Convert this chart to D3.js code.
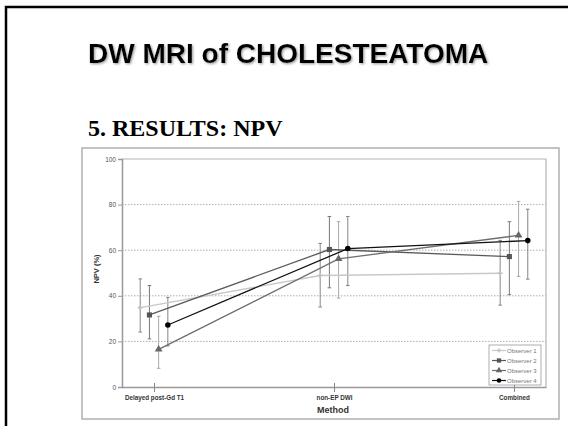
<!DOCTYPE html>
<html lang="en">
<head>
    <meta charset="UTF-8">
    <title>DW MRI of Cholesteatoma - NPV</title>
    <script src="https://d3js.org/d3.v7.min.js"></script>
    <style>
        body { margin: 0; background: #fff; }
        svg { display: block; }
        .tick-label { font-family: "Liberation Sans", Arial, sans-serif; font-size: 6.5px; fill: #555; }
        .cat-label { font-family: "Liberation Sans", Arial, sans-serif; font-size: 6.3px; font-weight: bold; fill: #333; }
        .legend text { font-family: "Liberation Sans", Arial, sans-serif; font-size: 6px; fill: #777; }
    </style>
</head>
<body>
<div id="chart"></div>
<script>
    // Categories and series
    const categories = ["Delayed post-Gd T1", "non-EP DWI", "Combined"];
    const observers = ["Observer 1", "Observer 2", "Observer 3", "Observer 4"];
    const yTicks = [0, 20, 40, 60, 80, 100];

    // NPV (%) per observer, with lower / upper confidence limits
    const npvObs1 = [34.8, 48.9, 49.9];
    const npvObs2 = [31.6, 60.3, 57.2];
    const npvObs3 = [16.5, 56.2, 66.5];
    const npvObs4 = [27.2, 60.7, 64.2];

    const lowObs1 = [24.1, 35.1, 35.9];
    const lowObs2 = [21.1, 43.5, 40.5];
    const lowObs3 = [8.2, 39.0, 48.5];
    const lowObs4 = [18.0, 44.5, 47.3];

    const highObs1 = [47.4, 63.0, 64.3];
    const highObs2 = [44.5, 74.8, 72.5];
    const highObs3 = [31.0, 72.5, 81.4];
    const highObs4 = [39.3, 74.8, 78.0];

    const W = 568, H = 426;

    const svg = d3.select("#chart")
        .append("svg")
        .attr("width", W)
        .attr("height", H);

    // drop shadow for the slide title
    const defs = svg.append("defs");
    defs.append("filter").attr("id", "shadow")
        .attr("x", "-5%").attr("y", "-20%").attr("width", "110%").attr("height", "150%")
        .append("feDropShadow")
        .attr("dx", 1.2).attr("dy", 1.2).attr("stdDeviation", 0.8)
        .attr("flood-color", "#888").attr("flood-opacity", 0.8);

    // slide frame
    svg.append("rect")
        .attr("x", 6).attr("y", 7)
        .attr("width", 600).attr("height", 450)
        .attr("fill", "#fff")
        .attr("stroke", "#000")
        .attr("stroke-width", 2.5);

    svg.append("text")
        .attr("x", 88).attr("y", 63)
        .attr("font-family", "'Liberation Sans', Arial, sans-serif")
        .attr("font-weight", "bold")
        .attr("font-size", 28)
        .attr("filter", "url(#shadow)")
        .text("DW MRI of CHOLESTEATOMA");

    svg.append("text")
        .attr("x", 88).attr("y", 136)
        .attr("font-family", "'Liberation Serif', 'Times New Roman', serif")
        .attr("font-weight", "bold")
        .attr("font-size", 24)
        .text("5. RESULTS: NPV");

    // chart container
    svg.append("rect")
        .attr("x", 82).attr("y", 148)
        .attr("width", 477).attr("height", 271)
        .attr("fill", "#fff")
        .attr("stroke", "#b0b0b0")
        .attr("stroke-width", 1.5);

    const plot = { left: 122, right: 546, top: 159, bottom: 387 };

    const x = d3.scalePoint()
        .domain(categories)
        .range([plot.left, plot.right])
        .padding(0.178);

    const y = d3.scaleLinear()
        .domain([0, 100])
        .range([plot.bottom, plot.top]);

    const offset = d3.scalePoint()
        .domain(observers)
        .range([-13.8, 13.8]);

    // gridlines
    svg.append("g")
        .selectAll("line")
        .data(yTicks.filter(t => t > 0 && t < 100))
        .enter()
        .append("line")
        .attr("x1", plot.left).attr("x2", plot.right)
        .attr("y1", d => y(d)).attr("y2", d => y(d))
        .attr("stroke", "#999")
        .attr("stroke-width", 0.8)
        .attr("stroke-dasharray", "1.5,1.5");

    // plot frame (top and right)
    svg.append("path")
        .attr("d", `M${plot.left},${plot.top}H${plot.right}V${plot.bottom}`)
        .attr("fill", "none")
        .attr("stroke", "#b5b5b5")
        .attr("stroke-width", 1.2);

    // Y axis
    const yAxis = svg.append("g")
        .attr("transform", `translate(${plot.left},0)`)
        .call(d3.axisLeft(y).tickValues(yTicks).tickSize(4).tickPadding(2));
    yAxis.select(".domain").attr("stroke", "#999").attr("stroke-width", 1.5);
    yAxis.selectAll(".tick line").attr("stroke", "#999");
    yAxis.selectAll(".tick text").attr("class", "tick-label").attr("fill", null);

    // X axis
    const xAxis = svg.append("g")
        .attr("transform", `translate(0,${plot.bottom})`)
        .call(d3.axisBottom(x).tickSize(5).tickPadding(4).tickSizeOuter(0));
    xAxis.select(".domain").attr("stroke", "#999").attr("stroke-width", 1.5);
    xAxis.selectAll(".tick line").attr("stroke", "#888").attr("y1", -4);
    xAxis.selectAll(".tick text").attr("class", "cat-label").attr("fill", null);

    // axis titles
    svg.append("text")
        .attr("transform", `translate(99,${(plot.top + plot.bottom) / 2 - 4}) rotate(-90)`)
        .attr("text-anchor", "middle")
        .attr("font-family", "'Liberation Sans', Arial, sans-serif")
        .attr("font-weight", "bold")
        .attr("font-size", 7.5)
        .attr("fill", "#333")
        .text("NPV (%)");

    svg.append("text")
        .attr("x", 333).attr("y", 413)
        .attr("text-anchor", "middle")
        .attr("font-family", "'Liberation Sans', Arial, sans-serif")
        .attr("font-weight", "bold")
        .attr("font-size", 9)
        .attr("fill", "#333")
        .text("Method");

    // series table built from the arrays above
    const series = [
        { name: observers[0], values: npvObs1, low: lowObs1, high: highObs1, line: "#c8c8c8", mark: "#c0c0c0", bar: "#7a7a7a", shape: "cross" },
        { name: observers[1], values: npvObs2, low: lowObs2, high: highObs2, line: "#5a5a5a", mark: "#555", bar: "#6a6a6a", shape: "square" },
        { name: observers[2], values: npvObs3, low: lowObs3, high: highObs3, line: "#6e6e6e", mark: "#666", bar: "#a0a0a0", shape: "triangle" },
        { name: observers[3], values: npvObs4, low: lowObs4, high: highObs4, line: "#111", mark: "#000", bar: "#777", shape: "circle" }
    ];

    const px = (s, i) => x(categories[i]) + offset(s.name);

    const symbolType = {
        cross: d3.symbolCross,
        square: d3.symbolSquare,
        triangle: d3.symbolTriangle,
        circle: d3.symbolCircle
    };
    const symbolSize = { cross: 14, square: 26, triangle: 26, circle: 24 };

    // error bars
    series.forEach(s => {
        const g = svg.append("g").attr("stroke", s.bar).attr("stroke-width", 0.9);
        s.values.forEach((v, i) => {
            const cx = px(s, i);
            g.append("line").attr("x1", cx).attr("x2", cx)
                .attr("y1", y(s.low[i])).attr("y2", y(s.high[i]));
            [s.low[i], s.high[i]].forEach(e => {
                g.append("line").attr("x1", cx - 1.8).attr("x2", cx + 1.8)
                    .attr("y1", y(e)).attr("y2", y(e));
            });
        });
    });

    // lines and markers
    const line = d3.line()
        .x(d => d.x)
        .y(d => y(d.v));

    series.forEach(s => {
        const pts = s.values.map((v, i) => ({ x: px(s, i), v: v }));
        svg.append("path")
            .datum(pts)
            .attr("d", line)
            .attr("fill", "none")
            .attr("stroke", s.line)
            .attr("stroke-width", 1.3);

        svg.append("g")
            .selectAll("path")
            .data(pts)
            .enter()
            .append("path")
            .attr("transform", d => `translate(${d.x},${y(d.v)})`)
            .attr("d", d3.symbol().type(symbolType[s.shape]).size(symbolSize[s.shape]))
            .attr("fill", s.mark);
    });

    // legend
    const legend = svg.append("g")
        .attr("class", "legend")
        .attr("transform", "translate(489,345)");

    legend.append("rect")
        .attr("width", 52).attr("height", 40)
        .attr("fill", "#fff")
        .attr("stroke", "#999")
        .attr("stroke-width", 0.8);

    series.forEach((s, i) => {
        const ly = 5.5 + i * 10;
        legend.append("line")
            .attr("x1", 3).attr("x2", 17)
            .attr("y1", ly).attr("y2", ly)
            .attr("stroke", s.line)
            .attr("stroke-width", 1.2);
        legend.append("path")
            .attr("transform", `translate(10,${ly})`)
            .attr("d", d3.symbol().type(symbolType[s.shape]).size(symbolSize[s.shape] * 0.7))
            .attr("fill", s.mark);
        legend.append("text")
            .attr("x", 18).attr("y", ly + 2.1)
            .text(s.name);
    });
</script>
</body>
</html>
